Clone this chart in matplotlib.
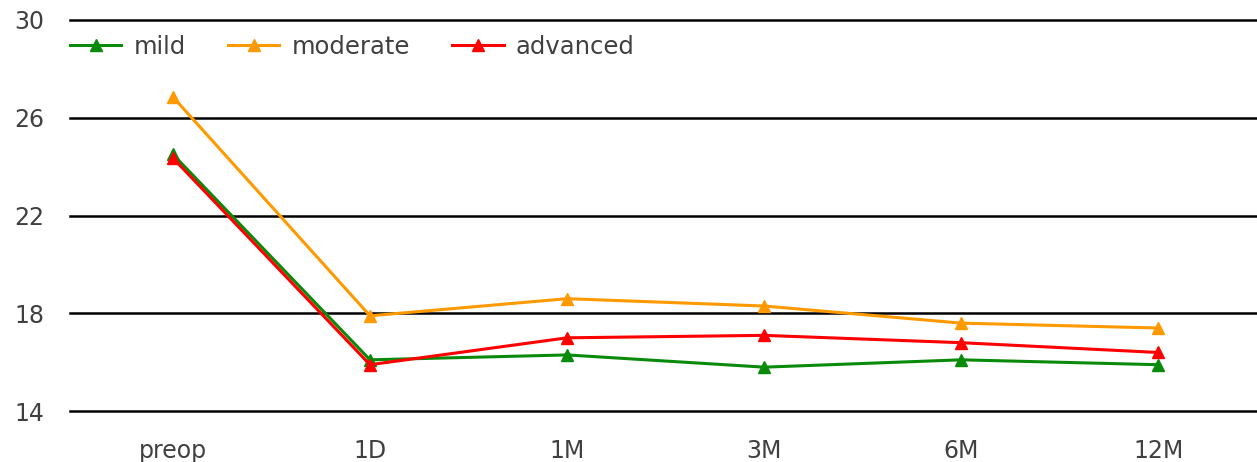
import matplotlib.pyplot as plt
import numpy as np

text_color = "#404040"

timepoints = ["preop", "1D", "1M", "3M", "6M", "12M"]
mild = [24.5, 16.1, 16.3, 15.8, 16.1, 15.9]
moderate = [26.85, 17.9, 18.6, 18.3, 17.6, 17.4]
advanced = [24.35, 15.9, 17.0, 17.1, 16.8, 16.4]

series = [("mild", mild, "#0a8a0a"),
          ("moderate", moderate, "#ff9900"),
          ("advanced", advanced, "#ff0000")]

plt.rcParams["font.family"] = ["DejaVu Sans"]

fig = plt.figure(figsize=(12.57, 4.62), dpi=100)
ax = fig.add_axes([0.056, 0.11, 0.944, 0.847])

x = np.arange(len(timepoints))
for name, vals, col in series:
    ax.plot(x, vals, color=col, linewidth=2.2, marker="^", markersize=9,
            label=name, zorder=3)

ax.set_ylim(14, 30)
ax.set_yticks([14, 18, 22, 26, 30])
ax.set_xlim(-0.52, 5.5)
ax.set_xticks(x)
ax.set_xticklabels(timepoints)
ax.grid(axis="y", color="black", linewidth=1.8, zorder=1)
for gl in ax.get_ygridlines():
    gl.set_clip_on(False)
ax.set_axisbelow(True)
for s in ax.spines.values():
    s.set_visible(False)
ax.tick_params(length=0, labelsize=17, colors=text_color)
ax.tick_params(axis="x", pad=20)
ax.tick_params(axis="y", pad=19)

ax.legend(loc="upper left", bbox_to_anchor=(0.0, 0.962), ncol=3, frameon=False,
          fontsize=17.5, handlelength=2.1, handletextpad=0.5, columnspacing=1.75,
          labelcolor=text_color, borderaxespad=0.0, borderpad=0.0)

fig.savefig("out.png", dpi=100)
